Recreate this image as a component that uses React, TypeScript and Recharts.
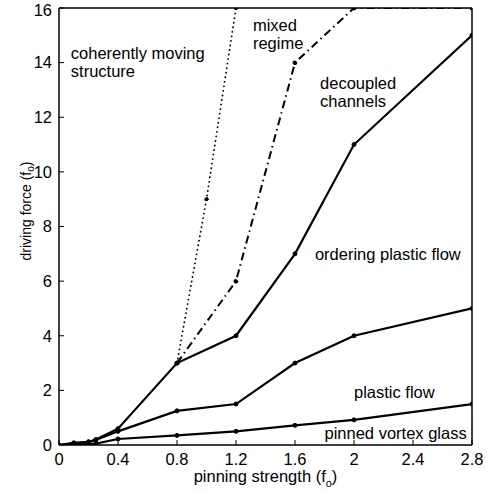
import { LineChart, Line, XAxis, YAxis, ReferenceDot } from 'recharts'

// pinning strength ticks / driving force ticks (units of f0)
const xTicks = [0, 0.4, 0.8, 1.2, 1.6, 2, 2.4, 2.8]
const yTicks = [0, 2, 4, 6, 8, 10, 12, 14, 16]

// boundary between ordering plastic flow and decoupled channels
const decoupledLine = [
  { x: 0, y: 0 }, { x: 0.1, y: 0.08 }, { x: 0.2, y: 0.12 }, { x: 0.25, y: 0.2 },
  { x: 0.4, y: 0.6 }, { x: 0.8, y: 3 }, { x: 1.2, y: 4 }, { x: 1.6, y: 7 },
  { x: 2, y: 11 }, { x: 2.8, y: 15 },
]
// boundary between plastic flow and ordering plastic flow
const orderingLine = [
  { x: 0, y: 0 }, { x: 0.1, y: 0.06 }, { x: 0.2, y: 0.1 }, { x: 0.25, y: 0.18 },
  { x: 0.4, y: 0.5 }, { x: 0.8, y: 1.25 }, { x: 1.2, y: 1.5 }, { x: 1.6, y: 3 },
  { x: 2, y: 4 }, { x: 2.8, y: 5 },
]
// depinning line (pinned vortex glass)
const depinningLine = [
  { x: 0, y: 0 }, { x: 0.1, y: 0.03 }, { x: 0.2, y: 0.04 }, { x: 0.25, y: 0.05 },
  { x: 0.4, y: 0.22 }, { x: 0.8, y: 0.35 }, { x: 1.2, y: 0.5 }, { x: 1.6, y: 0.72 },
  { x: 2, y: 0.92 }, { x: 2.8, y: 1.5 },
]
// coherently moving structure boundary
const coherentLine = [{ x: 0.8, y: 3 }, { x: 1, y: 9 }, { x: 1.2, y: 16 }]
// mixed regime boundary
const mixedLine = [{ x: 0.8, y: 3 }, { x: 1.2, y: 6 }, { x: 1.6, y: 14 }, { x: 2, y: 16 }, { x: 2.8, y: 16 }]

const regionLabels = [
  { lines: ['coherently moving', 'structure'], x: 0.08, y: 14.35 },
  { lines: ['mixed', 'regime'], x: 1.315, y: 15.38 },
  { lines: ['decoupled', 'channels'], x: 1.77, y: 13.25 },
  { lines: ['ordering plastic flow'], x: 1.735, y: 6.99 },
  { lines: ['plastic flow'], x: 2.0, y: 1.94 },
  { lines: ['pinned vortex glass'], x: 1.8, y: 0.44 },
]

const FONT = '"Liberation Sans", Arial, Helvetica, sans-serif'

const dot = { r: 2, fill: '#000', stroke: '#000', strokeWidth: 1 }

export default function App() {
  return (
    <div style={{ position: 'absolute', left: 0, top: 0, background: '#fff' }}>
      <LineChart width={489} height={493} margin={{ top: 0, right: 0, bottom: 0, left: 0 }}>
        <XAxis
          xAxisId="bottom"
          dataKey="x"
          type="number"
          domain={[0, 2.8]}
          ticks={xTicks}
          height={48}
          allowDataOverflow
          tickSize={-5}
          tickMargin={13}
          axisLine={{ stroke: '#000', strokeWidth: 1.5 }}
          tickLine={{ stroke: '#000' }}
          tick={{ fill: '#000', fontSize: 16.5, fontFamily: FONT }}
          tickFormatter={(v: number) => String(v)}
          label={{
            content: (props: any) => {
              const vb = props.viewBox
              return (
                <text x={vb.x + vb.width / 2} y={vb.y + 37} textAnchor="middle" fontFamily={FONT} fontSize={16.5} fill="#000">
                  pinning strength (f<tspan dy={5} fontSize={11}>o</tspan><tspan dy={-5}>)</tspan>
                </text>
              )
            },
          }}
        />
        <XAxis
          xAxisId="top"
          orientation="top"
          dataKey="x"
          type="number"
          domain={[0, 2.8]}
          ticks={xTicks}
          height={8}
          tickSize={-5}
          axisLine={{ stroke: '#000', strokeWidth: 1.5 }}
          tickLine={{ stroke: '#000' }}
          tickFormatter={() => ''}
        />
        <YAxis
          yAxisId="left"
          type="number"
          domain={[0, 16]}
          ticks={yTicks}
          width={59}
          allowDataOverflow
          tickSize={-5}
          tickMargin={12}
          axisLine={{ stroke: '#000', strokeWidth: 1.5 }}
          tickLine={{ stroke: '#000' }}
          tick={{ fill: '#000', fontSize: 16.5, fontFamily: FONT }}
          label={{
            content: (props: any) => {
              const vb = props.viewBox
              const cx = vb.x + 26
              const cy = 211
              return (
                <text x={cx} y={cy} transform={`rotate(-90 ${cx} ${cy})`} textAnchor="middle" dominantBaseline="central" fontFamily={FONT} fontSize={14} fill="#000">
                  driving force (f<tspan dy={4} fontSize={10}>o</tspan><tspan dy={-4}>)</tspan>
                </text>
              )
            },
          }}
        />
        <YAxis
          yAxisId="right"
          orientation="right"
          type="number"
          domain={[0, 16]}
          ticks={yTicks}
          width={17}
          tickSize={-5}
          axisLine={{ stroke: '#000', strokeWidth: 1.5 }}
          tickLine={{ stroke: '#000' }}
          tickFormatter={() => ''}
        />

        <Line xAxisId="bottom" yAxisId="left" data={coherentLine} dataKey="y" stroke="#000" strokeWidth={1.8}
          strokeDasharray="0.1 4.5" strokeLinecap="round" dot={dot} isAnimationActive={false} />
        <Line xAxisId="bottom" yAxisId="left" data={mixedLine} dataKey="y" stroke="#000" strokeWidth={2}
          strokeDasharray="8 4 1.5 4" dot={dot} isAnimationActive={false} />
        <Line xAxisId="bottom" yAxisId="left" data={decoupledLine} dataKey="y" stroke="#000" strokeWidth={2.2}
          dot={dot} isAnimationActive={false} />
        <Line xAxisId="bottom" yAxisId="left" data={orderingLine} dataKey="y" stroke="#000" strokeWidth={2.2}
          dot={dot} isAnimationActive={false} />
        <Line xAxisId="bottom" yAxisId="left" data={depinningLine} dataKey="y" stroke="#000" strokeWidth={2.2}
          dot={dot} isAnimationActive={false} />

        {regionLabels.map((lab, i) => (
          <ReferenceDot
            key={i}
            xAxisId="bottom"
            yAxisId="left"
            x={lab.x}
            y={lab.y}
            r={0}
            fill="none"
            stroke="none"
            label={{
              content: (props: any) => {
                const vb = props.viewBox
                return (
                  <text x={vb.x} y={vb.y} dominantBaseline="central" fontFamily={FONT} fontSize={16.5} fill="#000">
                    {lab.lines.map((t, j) => (
                      <tspan key={j} x={vb.x} dy={j === 0 ? 0 : 18}>{t}</tspan>
                    ))}
                  </text>
                )
              },
            }}
          />
        ))}
      </LineChart>
    </div>
  )
}
